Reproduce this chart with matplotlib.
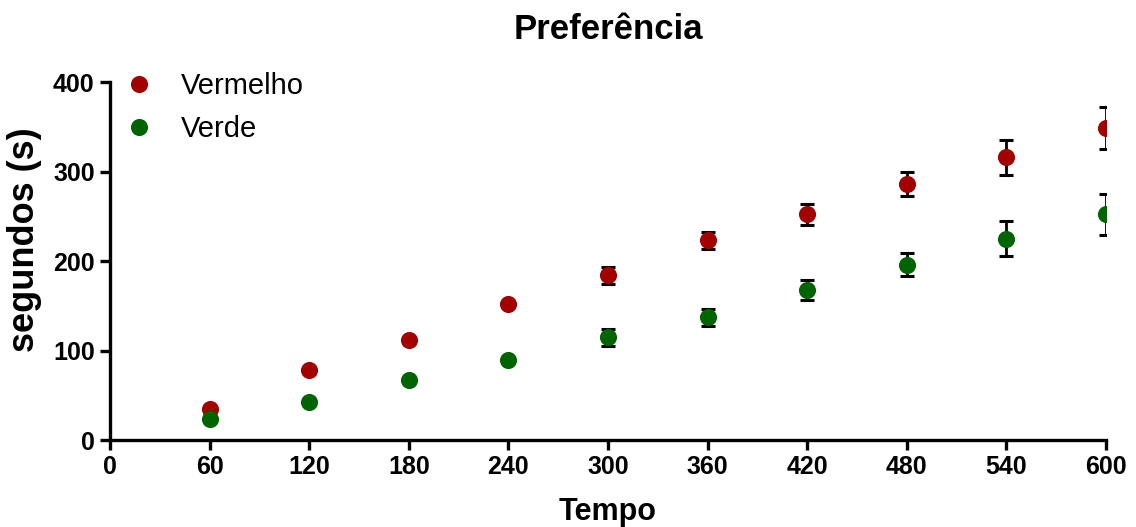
import matplotlib
matplotlib.use("Agg")
import matplotlib.pyplot as plt

plt.rcParams['font.family'] = ['Liberation Sans', 'DejaVu Sans']

# tempo (s) e medias de cada grupo
tempo = [60, 120, 180, 240, 300, 360, 420, 480, 540, 600]
vermelho = [35, 78, 112, 152, 184, 223, 252, 286, 316, 349]
vermelho_erro = [0, 0, 0, 0, 9.5, 9.3, 11.3, 13.6, 19.5, 23.5]
verde = [24, 42, 67, 89, 115, 137, 168, 196, 225, 252]
verde_erro = [0, 0, 0, 0, 9.5, 9.3, 11.2, 12.8, 19.5, 23]

cor_vermelho = "#a30000"
cor_verde = "#006400"

fig = plt.figure(figsize=(11.36, 5.27), dpi=100)
ax = fig.add_axes([0.0968, 0.165, 0.8768, 0.6794])

for y, err, cor, nome in [(vermelho, vermelho_erro, cor_vermelho, "Vermelho"),
                          (verde, verde_erro, cor_verde, "Verde")]:
    ax.errorbar(tempo, y, yerr=err, fmt="none", ecolor="black",
                elinewidth=2, capsize=5.3, capthick=2.2, zorder=2)
    ax.plot(tempo, y, "o", color=cor, markersize=11.3, label=nome, zorder=3)

ax.set_xlim(0, 600)
ax.set_ylim(0, 400)
ax.set_xticks(range(0, 601, 60))
ax.set_yticks(range(0, 401, 100))

for s in ["top", "right"]:
    ax.spines[s].set_visible(False)
for s in ["left", "bottom"]:
    ax.spines[s].set_linewidth(2.4)

ax.tick_params(axis="both", direction="out", length=7, width=2.4,
               labelsize=18, pad=4)
for lab in ax.get_xticklabels() + ax.get_yticklabels():
    lab.set_fontweight("bold")

ax.set_title("Preferência", fontsize=25, fontweight="bold", pad=31)
ax.set_xlabel("Tempo", fontsize=22, fontweight="bold", labelpad=13)
ax.set_ylabel("segundos (s)", fontsize=26, fontweight="bold")
ax.yaxis.set_label_coords(-0.068, 0.559)

ax.legend(loc="upper left", bbox_to_anchor=(0.0, 1.06), frameon=False,
          fontsize=21, handletextpad=0.82, labelspacing=0.5,
          borderaxespad=0, handlelength=1.2)

fig.savefig("out.png", dpi=100)
